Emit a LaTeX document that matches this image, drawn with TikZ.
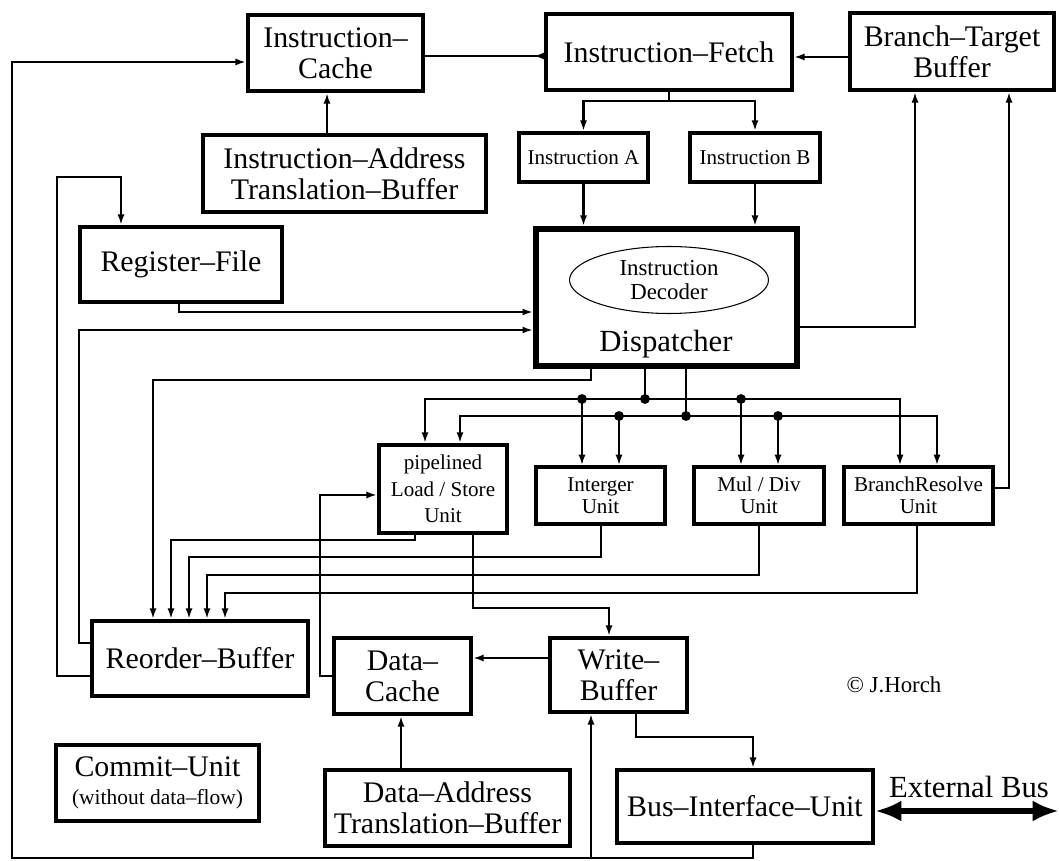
\documentclass[tikz,border=0pt]{standalone}
\usepackage{fontspec}
\setmainfont{Liberation Serif}
\usetikzlibrary{arrows.meta,shapes.geometric}

\tikzset{
  unit/.style={draw, line width=2.3pt, inner sep=0pt, align=center,
               font=\fontsize{17}{17.5}\selectfont},
  small/.style={draw, line width=2pt, inner sep=0pt, align=center,
               font=\fontsize{12}{12.5}\selectfont},
  wire/.style={line width=1.3pt},
  arr/.style={wire, -{Latex[length=6pt,width=4pt]}},
}

\begin{document}
\begin{tikzpicture}[x=0.02cm, y=-0.02cm]
\useasboundingbox (0,0) rectangle (1059,861);

%%   kw   (name)   (x, y)   {text}
\node[unit, minimum width=3.5cm,  minimum height=1.52cm] (icache)  at (335.5,53)  {Instruction--\\Cache};
\node[unit, minimum width=4.92cm, minimum height=1.52cm] (fetch)   at (669,52)    {Instruction--Fetch};
\node[unit, minimum width=4.08cm, minimum height=1.54cm] (btb)     at (952,51.5)  {Branch--Target\\Buffer};
\node[unit, minimum width=5.66cm, minimum height=1.54cm] (iatb)    at (344.5,173.5) {Instruction--Address\\Translation--Buffer};
\node[small, line width=2.3pt, minimum width=2.58cm, minimum height=0.98cm] (insta) at (583.5,157.5) {Instruction A};
\node[small, line width=2.3pt, minimum width=2.6cm,  minimum height=0.98cm] (instb) at (755,157.5)   {Instruction B};
\node[unit, minimum width=4.04cm, minimum height=1.5cm]  (regfile) at (181,264.5) {Register--File};
\node[unit, line width=3.4pt, minimum width=5.22cm, minimum height=2.74cm] (disp) at (666.5,297.5) {};
\node[draw, ellipse, line width=0.6pt, minimum width=3.98cm, minimum height=1.34cm, inner sep=0pt,
      align=center, font=\fontsize{13}{13.5}\selectfont] (decoder) at (669,280) {Instruction\\Decoder};
\node[anchor=base, font=\fontsize{17.5}{17.5}\selectfont] (disptext) at (666,352) {Dispatcher};

\node[small, line width=2.3pt, minimum width=2.56cm, minimum height=1.76cm,
      font=\fontsize{12}{15}\selectfont] (lsu) at (443,489) {pipelined\\Load / Store\\Unit};
\node[small, minimum width=2.58cm, minimum height=1.14cm] (intu)   at (600.5,495.5) {Interger\\Unit};
\node[small, minimum width=2.6cm,  minimum height=1.14cm] (muldiv) at (759,495.5)   {Mul / Div\\Unit};
\node[small, minimum width=2.98cm, minimum height=1.14cm] (bru)    at (918.5,495.5) {BranchResolve\\Unit};

\node[unit, minimum width=4.32cm, minimum height=1.5cm]  (rob)    at (200,658.5)  {Reorder--Buffer};
\node[unit, minimum width=2.74cm, minimum height=1.52cm] (dcache) at (402.5,676)  {Data--\\Cache};
\node[unit, minimum width=2.74cm, minimum height=1.48cm] (wbuf)   at (618.5,675)  {Write--\\Buffer};
\node[unit, minimum width=4.06cm, minimum height=1.52cm] (commit) at (157.5,783)
     {Commit--Unit\\[-2pt]{\fontsize{12.2}{12.2}\selectfont (without data--flow)}};
\node[unit, minimum width=4.9cm,  minimum height=1.52cm] (datb)   at (447.5,808)  {Data--Address\\Translation--Buffer};
\node[unit, minimum width=5.12cm, minimum height=1.46cm] (biu)    at (745,806.5)  {Bus--Interface--Unit};

\node[font=\fontsize{17.5}{17.5}\selectfont] (extlabel) at (969,787) {External Bus};
\node[font=\fontsize{13}{13}\selectfont]     (author)   at (894,685) {© J.Horch};
\coordinate (extbus) at (1059,811);

% fetch side
\draw[wire, {Latex[length=6pt,width=4pt,reversed]}-] (fetch.west |- 0,56) -- (icache.east |- 0,56);
\draw[arr] (btb.west |- 0,57) -- (fetch.east |- 0,57);
\draw[arr] (327,0 |- iatb.north) -- (327,0 |- icache.south);
\draw[arr] (fetch.south) -- (fetch.south |- 0,101) -| (insta.north);
\draw[arr] (fetch.south |- 0,101) -| (instb.north);
\draw[arr] (insta.south) -- (insta.south |- disp.north);
\draw[arr] (instb.south) -- (instb.south |- disp.north);

% register file and reorder buffer loops
\draw[arr] (rob.west |- 0,676) -- (57,676) -- (57,177) -- (121,177) -- (121,0 |- regfile.north);
\draw[arr] (rob.west |- 0,643) -- (79,643) -- (79,330) -- (disp.west |- 0,330);
\draw[arr] (179,0 |- regfile.south) -- (179,312) -- (disp.west |- 0,312);
\draw[arr] (disp.east |- 0,327) -- (915,327) -- (915,0 |- btb.south);
\draw[arr] (bru.east |- 0,488) -- (1009,488) -- (1009,0 |- btb.south);
\draw[arr] (591,0 |- disp.south) -- (591,380) -- (153,380) -- (153,0 |- rob.north);

% issue buses
\draw[wire] (645,0 |- disp.south) -- (645,399);
\draw[wire] (686,0 |- disp.south) -- (686,416);
\draw[arr] (645,399) -- (425,399) -- (425,0 |- lsu.north);
\draw[arr] (645,399) -- (900,399) -- (900,0 |- bru.north);
\draw[arr] (686,416) -- (460,416) -- (460,0 |- lsu.north);
\draw[arr] (686,416) -- (937,416) -- (937,0 |- bru.north);
\foreach \x in {582,741} \draw[arr] (\x,399) -- (\x,0 |- intu.north);
\foreach \x in {619,778} \draw[arr] (\x,416) -- (\x,0 |- intu.north);
\foreach \x/\y in {582/399, 645/399, 741/399, 619/416, 686/416, 778/416}
  \fill (\x,\y) circle (2.8pt);

% results back to the reorder buffer
\draw[arr] (415,0 |- lsu.south) -- (415,540) -- (171,540) -- (171,0 |- rob.north);
\draw[arr] (601,0 |- intu.south) -- (601,557) -- (189,557) -- (189,0 |- rob.north);
\draw[arr] (muldiv.south) -- (759,575) -- (207,575) -- (207,0 |- rob.north);
\draw[arr] (917,0 |- bru.south) -- (917,593) -- (225,593) -- (225,0 |- rob.north);

% memory side
\draw[arr] (473,0 |- lsu.south) -- (473,608) -- (609,608) -- (609,0 |- wbuf.north);
\draw[arr] (dcache.west |- 0,676) -- (320,676) -- (320,495) -- (lsu.west |- 0,495);
\draw[arr] (wbuf.west |- 0,658) -- (dcache.east |- 0,658);
\draw[arr] (401,0 |- datb.north) -- (401,0 |- dcache.south);
\draw[arr] (636,0 |- wbuf.south) -- (636,737) -- (753,737) -- (753,0 |- biu.north);
\draw[arr] (753,0 |- biu.south) -- (753,858) -- (12,858) -- (12,62) -- (icache.west |- 0,62);
\draw[arr] (591,858) -- (591,0 |- wbuf.south);
\draw[line width=3.5pt, {Latex[length=15pt,width=12pt]}-{Latex[length=15pt,width=12pt]}]
  (biu.east |- extbus) -- (extbus);
\end{tikzpicture}
\end{document}
